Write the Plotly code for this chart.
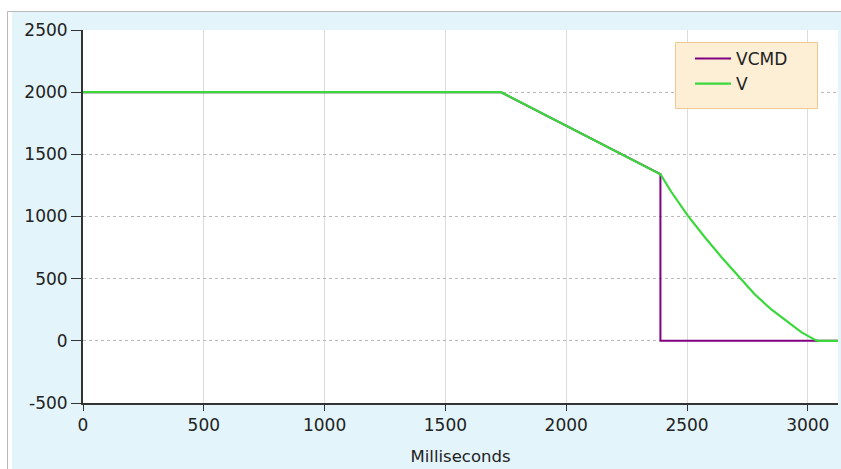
import plotly.graph_objects as go

# ---- data ----
vcmd_t = [0, 1730, 2390, 2390, 3125]
vcmd_v = [2000, 2000, 1340, 0, 0]

v_t = [0, 1730, 2390, 2436, 2504, 2573, 2642, 2718, 2780, 2849, 2918, 2973, 3000, 3015, 3030, 3042, 3125]
v_v = [2000, 2000, 1340, 1195, 1005, 835, 675, 505, 375, 252, 147, 70, 40, 22, 8, 0, 0]

x_ticks = [0, 500, 1000, 1500, 2000, 2500, 3000]
y_ticks = [-500, 0, 500, 1000, 1500, 2000, 2500]

# ---- layout geometry (pixels) ----
W, H = 841, 469
L, R, T, B = 83, 3, 30, 66
pw, ph = W - L - R, H - T - B

def px(x):
    return (x - L) / pw

def py(y):
    return (H - B - y) / ph

FONT = "DejaVu Sans"
BLUE = "#E3F4FA"

fig = go.Figure()
fig.add_trace(go.Scatter(x=vcmd_t, y=vcmd_v, mode="lines", name="VCMD",
                         line=dict(color="#800080", width=2)))
fig.add_trace(go.Scatter(x=v_t, y=v_v, mode="lines", name="V",
                         line=dict(color="#3AD83A", width=2.2)))

shapes = [
    dict(type="rect", xref="paper", yref="paper", x0=px(12), x1=px(W + 2), y0=py(H + 2), y1=py(12),
         fillcolor=BLUE, line=dict(width=0), layer="below"),
    dict(type="rect", xref="paper", yref="paper", x0=0, x1=1, y0=0, y1=1,
         fillcolor="white", line=dict(width=0), layer="below"),
    dict(type="line", xref="paper", yref="paper", x0=px(7.5), x1=px(W + 2), y0=py(11.5), y1=py(11.5),
         line=dict(color="#B8B8B8", width=1), layer="below"),
    dict(type="line", xref="paper", yref="paper", x0=px(7.5), x1=px(7.5), y0=py(11.5), y1=py(H + 2),
         line=dict(color="#B8B8B8", width=1), layer="below"),
    # legend box
    dict(type="rect", xref="paper", yref="paper", x0=px(675.5), x1=px(817.5), y0=py(108.5), y1=py(42.5),
         fillcolor="#FDEFD6", line=dict(color="#F0C890", width=1), layer="above"),
]

fig.update_layout(
    width=W, height=H,
    margin=dict(l=L, r=R, t=T, b=B),
    paper_bgcolor="white",
    plot_bgcolor="white",
    font=dict(family=FONT, size=17, color="#222222"),
    shapes=shapes,
    showlegend=True,
    legend=dict(x=px(690), y=py(41), xanchor="left", yanchor="top",
                bgcolor="rgba(0,0,0,0)", borderwidth=0,
                font=dict(family=FONT, size=17, color="#222222"),
                tracegroupgap=0, itemwidth=36),
    xaxis=dict(range=[0, 3125], tickmode="array", tickvals=x_ticks,
               ticktext=[str(v) for v in x_ticks],
               showgrid=True, gridcolor="#DCDCDC", gridwidth=1,
               showline=True, linecolor="#333333", linewidth=2,
               ticks="outside", ticklen=6, tickcolor="#333333", tickwidth=1,
               zeroline=False,
               title=dict(text="Milliseconds", font=dict(family=FONT, size=16.5, color="#222222"), standoff=16),
               tickfont=dict(family=FONT, size=17, color="#222222")),
    yaxis=dict(range=[-500, 2500], tickmode="array", tickvals=y_ticks,
               ticktext=[str(v) for v in y_ticks],
               showgrid=True, gridcolor="#B8B8B8", gridwidth=1, griddash="dot",
               showline=True, linecolor="#333333", linewidth=2,
               ticks="outside", ticklen=10, tickcolor="#333333", tickwidth=1,
               zeroline=False,
               tickfont=dict(family=FONT, size=17, color="#222222")),
)

fig.write_html("out.html", config={"displayModeBar": False},
               post_script="document.body.style.margin='0';document.body.style.padding='0';")
